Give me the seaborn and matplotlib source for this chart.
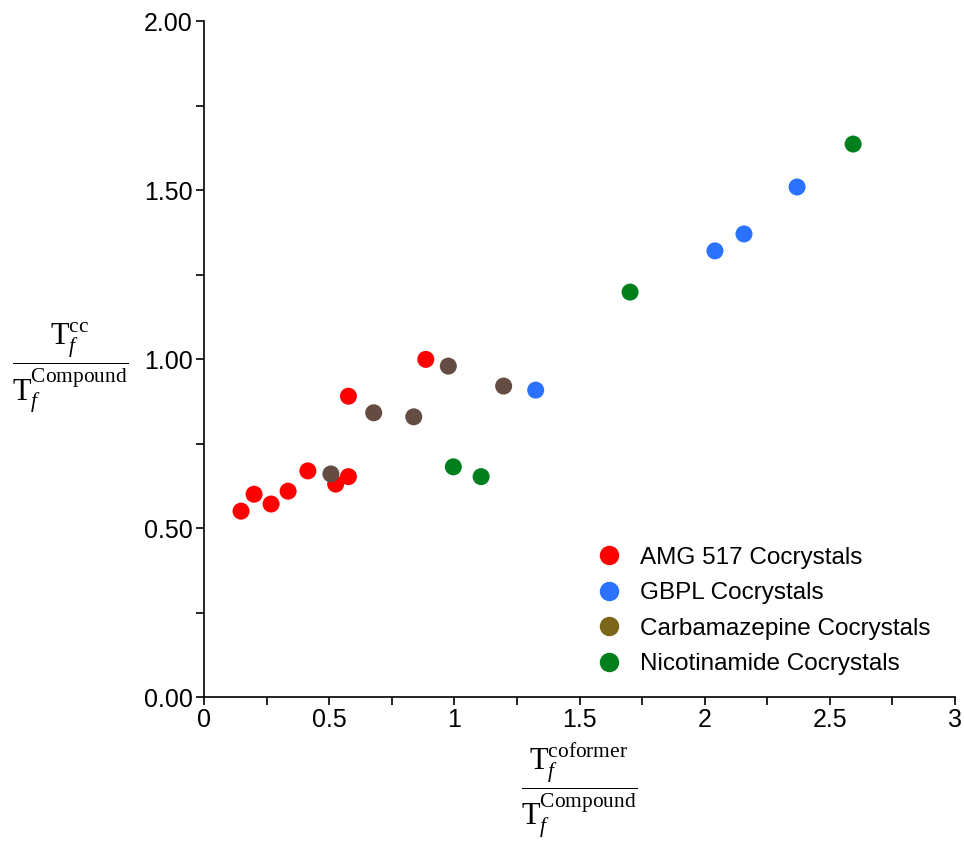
import numpy as np
import pandas as pd
import matplotlib
matplotlib.use("Agg")
import matplotlib.pyplot as plt
import seaborn as sns
from matplotlib.lines import Line2D
from matplotlib.ticker import MultipleLocator, FormatStrFormatter, FuncFormatter

# data
amg_x = [0.148, 0.200, 0.268, 0.336, 0.415, 0.526, 0.577, 0.577, 0.886]
amg_y = [0.550, 0.600, 0.571, 0.609, 0.669, 0.630, 0.652, 0.890, 0.999]
gbpl_x = [1.325, 2.041, 2.157, 2.369]
gbpl_y = [0.908, 1.320, 1.370, 1.509]
carb_x = [0.507, 0.678, 0.838, 0.976, 1.197]
carb_y = [0.660, 0.841, 0.829, 0.979, 0.920]
nico_x = [0.996, 1.107, 1.702, 2.593]
nico_y = [0.681, 0.652, 1.198, 1.636]

groups = ["AMG 517 Cocrystals", "GBPL Cocrystals",
          "Carbamazepine Cocrystals", "Nicotinamide Cocrystals"]
point_colors = {"AMG 517 Cocrystals": "#ff0000",
                "GBPL Cocrystals": "#2a72ff",
                "Carbamazepine Cocrystals": "#654c42",
                "Nicotinamide Cocrystals": "#007f1c"}
legend_colors = ["#ff0000", "#2a72ff", "#7b6519", "#007f1c"]

df = pd.concat([
    pd.DataFrame({"x": amg_x, "y": amg_y, "group": groups[0]}),
    pd.DataFrame({"x": gbpl_x, "y": gbpl_y, "group": groups[1]}),
    pd.DataFrame({"x": carb_x, "y": carb_y, "group": groups[2]}),
    pd.DataFrame({"x": nico_x, "y": nico_y, "group": groups[3]}),
], ignore_index=True)

sns.set_style("ticks")
plt.rcParams["font.family"] = ["Liberation Sans", "DejaVu Sans"]
plt.rcParams["text.color"] = "black"
plt.rcParams["xtick.color"] = "black"
plt.rcParams["ytick.color"] = "black"
plt.rcParams["mathtext.fontset"] = "custom"
plt.rcParams["mathtext.rm"] = "Liberation Serif"
plt.rcParams["mathtext.it"] = "Liberation Serif:italic"

fig = plt.figure(figsize=(9.64, 8.41), dpi=100)
ax = fig.add_axes([0.2116, 0.1712, 0.7791, 0.8038])

sns.scatterplot(data=df, x="x", y="y", hue="group", palette=point_colors,
                s=150, edgecolor="none", legend=False, ax=ax)

ax.set_xlim(0, 3)
ax.set_ylim(0, 2)
sns.despine(ax=ax)
for sp in ["left", "bottom"]:
    ax.spines[sp].set_linewidth(1.2)
    ax.spines[sp].set_color("black")

ax.xaxis.set_major_locator(MultipleLocator(0.5))
ax.xaxis.set_minor_locator(MultipleLocator(0.25))
ax.yaxis.set_major_locator(MultipleLocator(0.5))
ax.yaxis.set_minor_locator(MultipleLocator(0.25))
ax.xaxis.set_major_formatter(FuncFormatter(lambda v, p: f"{v:g}"))
ax.yaxis.set_major_formatter(FormatStrFormatter("%.2f"))
ax.tick_params(which="both", direction="out", length=5.5, width=1.2, color="black")
ax.tick_params(which="major", labelsize=18, pad=2.5, labelcolor="black")

ax.set_xlabel("")
ax.set_ylabel("")

fig.text(70 / 964, 1 - 368 / 841,
         r"$\dfrac{\mathrm{T}_{\mathit{f}}^{\mathrm{cc}}}{\mathrm{T}_{\mathit{f}}^{\mathrm{Compound}}}$",
         fontsize=22, ha="center", va="center")
fig.text(579 / 964, 1 - 790 / 841,
         r"$\dfrac{\mathrm{T}_{\mathit{f}}^{\mathrm{coformer}}}{\mathrm{T}_{\mathit{f}}^{\mathrm{Compound}}}$",
         fontsize=22, ha="center", va="center")

handles = [Line2D([], [], marker="o", linestyle="", markersize=14,
                  markerfacecolor=c, markeredgecolor="none") for c in legend_colors]
ax.legend(handles, groups, loc="upper left", bbox_to_anchor=(0.52, 0.222),
          frameon=False, fontsize=17.5, handletextpad=0.68, labelspacing=0.55,
          handlelength=1.2, borderaxespad=0, borderpad=0)

fig.savefig("out.png", dpi=100)
